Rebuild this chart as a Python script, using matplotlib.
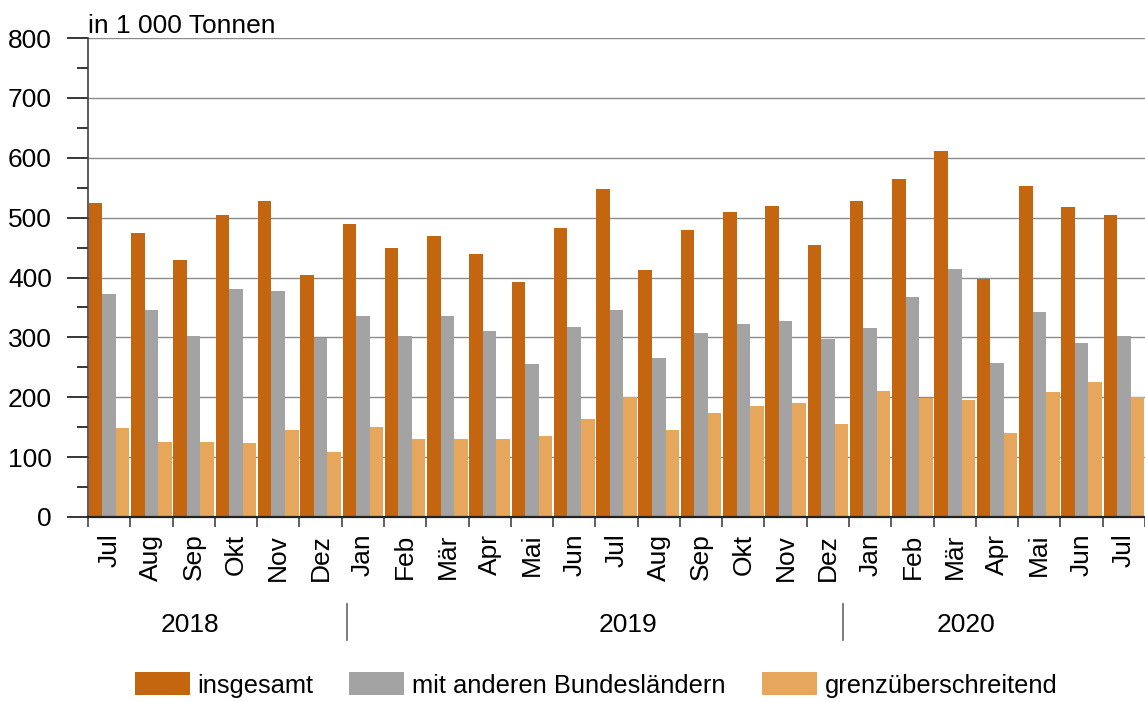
import matplotlib
matplotlib.use('Agg')
import matplotlib.pyplot as plt
from matplotlib.patches import Patch
import numpy as np

plt.rcParams['font.family'] = ['Liberation Sans', 'DejaVu Sans']

# Monate Jul 2018 .. Jul 2020
months = ['Jul', 'Aug', 'Sep', 'Okt', 'Nov', 'Dez',
          'Jan', 'Feb', 'Mär', 'Apr', 'Mai', 'Jun', 'Jul', 'Aug', 'Sep', 'Okt', 'Nov', 'Dez',
          'Jan', 'Feb', 'Mär', 'Apr', 'Mai', 'Jun', 'Jul']
years = ['2018', '2019', '2020']

insgesamt = [524, 474, 429, 505, 527, 405,
             489, 450, 469, 440, 392, 482, 547, 412, 480, 510, 519, 455,
             527, 565, 612, 398, 552, 517, 505]
bundeslaender = [373, 345, 303, 380, 378, 299,
                 335, 303, 335, 310, 255, 317, 345, 265, 307, 322, 327, 297,
                 315, 367, 415, 258, 343, 290, 302]
grenz = [148, 126, 126, 123, 146, 108,
         150, 130, 130, 131, 136, 163, 201, 145, 173, 186, 190, 155,
         211, 198, 196, 140, 208, 225, 201]

labels = ['insgesamt', 'mit anderen Bundesländern', 'grenzüberschreitend']
colors = ['#C4650F', '#A3A3A3', '#E6A65C']

fw, fh = 11.45, 7.02
fs = 19          # axis texts
lfs = 18.4       # legend
fig = plt.figure(figsize=(fw, fh), dpi=100, facecolor='w')
ax = fig.add_axes([88 / 1145, 1 - 517 / 702, 1 - 88 / 1145, (517 - 38) / 702])

x = np.arange(len(months))
w = 0.32
ax.bar(x + 0.18, insgesamt, w, color=colors[0], zorder=2)
ax.bar(x + 0.50, bundeslaender, w, color=colors[1], zorder=2)
ax.bar(x + 0.82, grenz, w, color=colors[2], zorder=2)

ax.set_xlim(0, len(months))
ax.set_ylim(0, 800)

# y axis
ax.set_yticks(np.arange(0, 801, 100))
ax.set_yticks(np.arange(50, 800, 100), minor=True)
ax.yaxis.grid(True, which='major', color='#8a8a8a', lw=1.0)
ax.set_axisbelow(True)
ax.tick_params(axis='y', which='major', length=15, width=1.1, pad=11, labelsize=fs, color='black')
ax.tick_params(axis='y', which='minor', length=8, width=1.1, color='black')

# x axis: ticks on group borders, labels in the middle
ax.set_xticks(np.arange(0, len(months) + 1))
ax.set_xticklabels([])
ax.set_xticks(x + 0.5, minor=True)
ax.set_xticklabels(months, minor=True, rotation=90, fontsize=fs)
ax.tick_params(axis='x', which='major', length=7.2, width=1.1, color='#333333')
ax.tick_params(axis='x', which='minor', length=0, pad=12)

for s in ['top', 'right']:
    ax.spines[s].set_visible(False)
ax.spines['left'].set_color('#404040')
ax.spines['left'].set_linewidth(1.2)
ax.spines['bottom'].set_color('#222222')
ax.spines['bottom'].set_linewidth(1.6)

ax.text(0, 808, 'in 1 000 Tonnen', ha='left', va='baseline', fontsize=fs, clip_on=False)

# years below month labels
tr = ax.get_xaxis_transform()
for xp, yr in zip([2.41, 12.77, 20.77], years):
    ax.text(xp, -0.2255, yr, transform=tr, ha='center', va='center', fontsize=fs)
for xp in [6.12, 17.86]:
    ax.plot([xp, xp], [-0.1816, -0.2568], transform=tr, color='#666666', lw=1.2, clip_on=False)

handles = [Patch(facecolor=c, edgecolor='none') for c in colors]
fig.legend(handles, labels, loc='center', bbox_to_anchor=(596 / 1145, 1 - 685 / 702), ncol=3,
           frameon=False, fontsize=lfs, handlelength=2.15, handleheight=1.0,
           handletextpad=0.31, columnspacing=1.4, borderpad=0, borderaxespad=0)

plt.savefig('out.png', dpi=100)
